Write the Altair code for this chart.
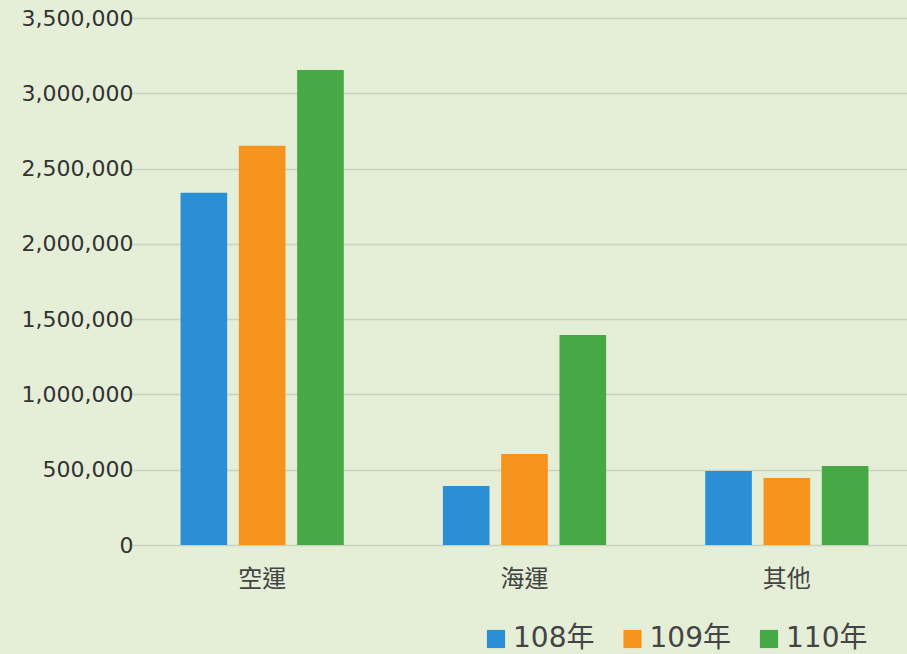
import altair as alt
import pandas as pd

categories = ["空運", "海運", "其他"]
years = ["108年", "109年", "110年"]
values_108 = [2340000, 392000, 491000]
values_109 = [2652000, 604000, 445000]
values_110 = [3155000, 1394000, 525000]
colors = ["#2a8fd4", "#f7941d", "#47a846"]
y_ticks = [0, 500000, 1000000, 1500000, 2000000, 2500000, 3000000, 3500000]

rows = []
for i, c in enumerate(categories):
    for y, vals in zip(years, [values_108, values_109, values_110]):
        rows.append({"類別": c, "年度": y, "數量": vals[i]})
df = pd.DataFrame(rows)

bg = "#e5eed7"

chart = alt.Chart(df).mark_bar().encode(
    x=alt.X("類別:N", sort=categories, title=None,
            scale=alt.Scale(range=[-14, 773], paddingInner=0, paddingOuter=0),
            axis=alt.Axis(labelAngle=0, domain=False, ticks=False, labelPadding=22,
                          labelFontSize=24, labelColor="#444444",
                          labelFont="Noto Sans CJK TC")),
    xOffset=alt.XOffset("年度:N", sort=years,
                        scale=alt.Scale(paddingInner=0.2, paddingOuter=0.85)),
    y=alt.Y("數量:Q", title=None,
            scale=alt.Scale(domain=[0, 3500000], nice=False),
            axis=alt.Axis(values=y_ticks, labelExpr="format(datum.value, ',d')",
                          domain=False, ticks=False,
                          labelPadding=12, labelFontSize=22, labelColor="#333333",
                          labelFont="DejaVu Sans", gridColor="#c9d1c0", gridWidth=1.5)),
    color=alt.Color("年度:N", sort=years,
                    scale=alt.Scale(domain=years, range=colors),
                    legend=alt.Legend(title=None, orient="none", direction="horizontal",
                                      legendX=337, legendY=607,
                                      symbolType="square", symbolSize=330,
                                      symbolStrokeWidth=0, labelFontSize=28,
                                      labelFont="DejaVu Sans, Noto Sans CJK TC",
                                      labelColor="#444444", labelOffset=3,
                                      columnPadding=23.5, padding=0)),
).properties(
    width=757, height=527,
    background=bg,
    padding={"left": 145, "top": 18, "right": 5, "bottom": 109},
    autosize=alt.AutoSizeParams(type="none"),
).configure_view(stroke=None)

chart.save("out.html", embed_options={"renderer": "svg", "actions": False})
